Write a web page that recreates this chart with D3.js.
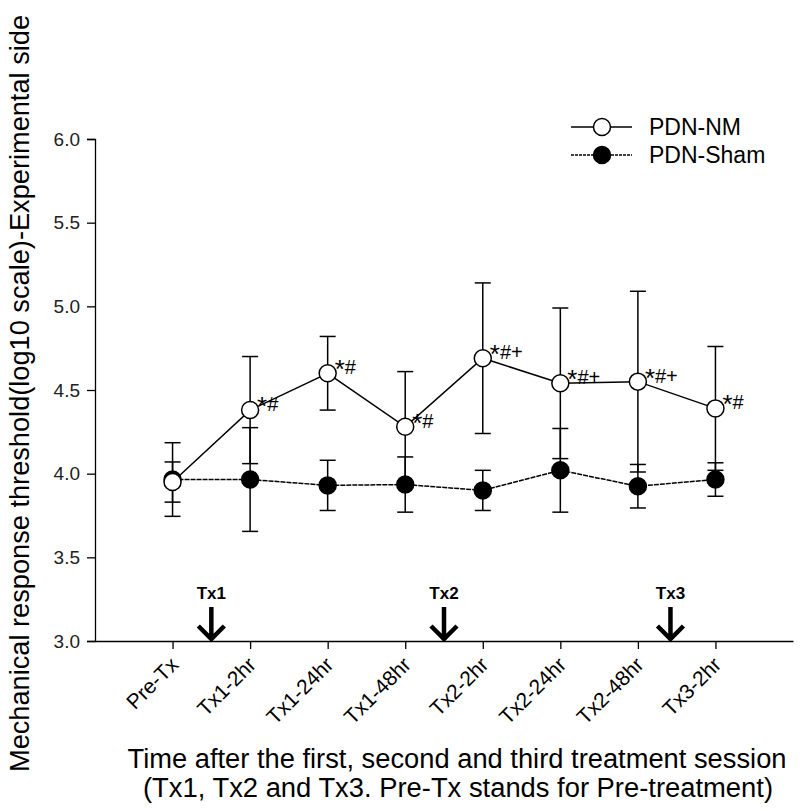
<!DOCTYPE html>
<html>
<head>
<meta charset="utf-8">
<script src="https://cdn.jsdelivr.net/npm/d3@7"></script>
<style>
  html, body { margin: 0; padding: 0; background: #fff; }
  svg { display: block; }
  text { font-family: "Liberation Sans", Arial, sans-serif; fill: #000; }
</style>
</head>
<body>
<svg id="chart" width="800" height="811"></svg>
<script>
const categories = ["Pre-Tx", "Tx1-2hr", "Tx1-24hr", "Tx1-48hr", "Tx2-2hr", "Tx2-24hr", "Tx2-48hr", "Tx3-2hr"];
const nmMean   = [3.95, 4.38, 4.60, 4.28, 4.69, 4.54, 4.55, 4.39];
const nmSD     = [0.12, 0.32, 0.22, 0.33, 0.45, 0.45, 0.54, 0.37];
const shamMean = [3.965, 3.965, 3.93, 3.935, 3.90, 4.02, 3.925, 3.965];
const shamSD   = [0.22, 0.31, 0.15, 0.165, 0.12, 0.25, 0.13, 0.10];
const nmMarks  = ["", "*#", "*#", "*#", "*#+", "*#+", "*#+", "*#"];
const yTicks   = [3.0, 3.5, 4.0, 4.5, 5.0, 5.5, 6.0];
const txLabels = ["Tx1", "Tx2", "Tx3"];
const txPos    = [1.5, 4.5, 7.42];
const seriesNames = ["PDN-NM", "PDN-Sham"];

const svg = d3.select("#chart");
const x = d3.scaleLinear().domain([0, 9]).range([95, 793]);
const y = d3.scaleLinear().domain([3, 6]).range([641, 139]);

// Y axis
const yAxis = d3.axisLeft(y).tickValues(yTicks).tickFormat(d3.format(".1f")).tickSize(8).tickPadding(7);
const gy = svg.append("g").attr("transform", `translate(${x(0)},0)`).call(yAxis);
gy.select(".domain").attr("stroke", "#000").attr("stroke-width", 1.3);
gy.selectAll(".tick line").attr("stroke", "#000").attr("stroke-width", 1.3);
gy.selectAll(".tick text").style("font-size", "19px").style("fill", "#222");

// X axis
const xAxis = d3.axisBottom(x).tickValues(d3.range(1, categories.length + 1)).tickFormat("").tickSize(8).tickSizeOuter(0);
const gx = svg.append("g").attr("transform", `translate(0,${y(3)})`).call(xAxis);
gx.select(".domain").attr("stroke", "#000").attr("stroke-width", 1.3);
gx.selectAll(".tick line").attr("stroke", "#000").attr("stroke-width", 1.3);

// rotated category labels
svg.append("g").selectAll("text").data(categories).join("text")
  .attr("transform", (d, i) => `translate(${x(i + 1) + 7},${y(3) + 25}) rotate(-45)`)
  .attr("text-anchor", "end")
  .style("font-size", "21px")
  .text(d => d);

// Axis titles
svg.append("text")
  .attr("transform", `translate(29,${(772 + 15) / 2}) rotate(-90)`)
  .attr("text-anchor", "middle")
  .attr("textLength", 757).attr("lengthAdjust", "spacingAndGlyphs")
  .style("font-size", "27px")
  .text("Mechanical response threshold(log10 scale)-Experimental side");

svg.append("text")
  .attr("x", 457).attr("y", 768)
  .attr("text-anchor", "middle")
  .attr("textLength", 659).attr("lengthAdjust", "spacingAndGlyphs")
  .style("font-size", "27px")
  .text("Time after the first, second and third treatment session");
svg.append("text")
  .attr("x", 458).attr("y", 797)
  .attr("text-anchor", "middle")
  .attr("textLength", 630).attr("lengthAdjust", "spacingAndGlyphs")
  .style("font-size", "27px")
  .text("(Tx1, Tx2 and Tx3. Pre-Tx stands for Pre-treatment)");

// Treatment arrows
const arrows = svg.append("g");
txPos.forEach((p, i) => {
  const ax = x(p);
  arrows.append("path")
    .attr("d", `M${ax},607 L${ax},639 M${ax - 13},626 L${ax},639 L${ax + 13},626`)
    .attr("fill", "none").attr("stroke", "#000").attr("stroke-width", 4.5)
    .attr("stroke-linejoin", "miter");
  arrows.append("text")
    .attr("x", ax).attr("y", 599)
    .attr("text-anchor", "middle")
    .style("font-size", "17px").style("font-weight", "bold")
    .text(txLabels[i]);
});

// Series drawing
function drawSeries(mean, sd, filled, dash) {
  const g = svg.append("g");
  const pts = mean.map((m, i) => ({ i: i + 1, m, s: sd[i] }));
  pts.forEach(p => {
    const cx = x(p.i), y1 = y(p.m + p.s), y2 = y(p.m - p.s);
    g.append("line").attr("x1", cx).attr("x2", cx).attr("y1", y1).attr("y2", y2)
      .attr("stroke", "#000").attr("stroke-width", 1.5);
    [y1, y2].forEach(yy => g.append("line")
      .attr("x1", cx - 8).attr("x2", cx + 8).attr("y1", yy).attr("y2", yy)
      .attr("stroke", "#000").attr("stroke-width", 1.5));
  });
  const line = d3.line().x(p => x(p.i)).y(p => y(p.m));
  g.append("path").datum(pts).attr("d", line)
    .attr("fill", "none").attr("stroke", "#000").attr("stroke-width", 1.5)
    .attr("stroke-dasharray", dash);
  g.selectAll("circle").data(pts).join("circle")
    .attr("cx", p => x(p.i)).attr("cy", p => y(p.m)).attr("r", 8.5)
    .attr("fill", filled ? "#000" : "#fff").attr("stroke", "#000").attr("stroke-width", 1.5);
  return g;
}

drawSeries(shamMean, shamSD, true, "5,1");
drawSeries(nmMean, nmSD, false, null);

// significance marks
const marks = svg.append("g").selectAll("text").data(nmMarks).join("text")
  .attr("x", (d, i) => x(i + 1) + 7)
  .attr("y", (d, i) => y(nmMean[i]) + 1)
  .style("font-size", "20px");
marks.append("tspan").style("font-size", "26px").attr("dy", 4).text(d => d.slice(0, 1));
marks.append("tspan").attr("dy", -4).text(d => d.slice(1));

// Legend
const legend = svg.append("g");
[0, 1].forEach(k => {
  const ly = 127 + k * 28;
  legend.append("line").attr("x1", 571).attr("x2", 632).attr("y1", ly).attr("y2", ly)
    .attr("stroke", "#000").attr("stroke-width", 1.3).attr("stroke-dasharray", k === 1 ? "3,1" : null);
  legend.append("circle").attr("cx", 602).attr("cy", ly).attr("r", 8.5)
    .attr("fill", k === 1 ? "#000" : "#fff").attr("stroke", "#000").attr("stroke-width", 1.5);
  legend.append("text").attr("x", 649).attr("y", ly + 8)
    .style("font-size", "23px")
    .text(seriesNames[k]);
});
</script>
</body>
</html>
